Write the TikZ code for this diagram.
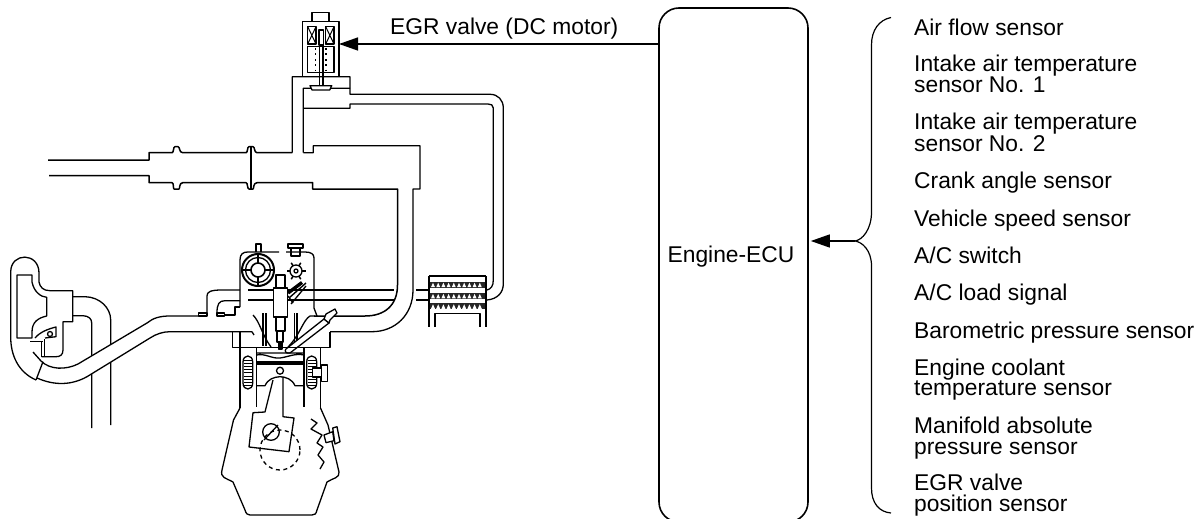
\documentclass[tikz,border=0pt]{standalone}
\usepackage{fontspec}
\setmainfont{Liberation Sans}
\usetikzlibrary{arrows.meta}
\tikzset{
 pipe/.style={line width=1.3pt,line join=round},
 thinpart/.style={line width=1pt},
 wire/.style={line width=1.4pt},
 lbl/.style={anchor=west,align=left,inner sep=0pt,font=\fontsize{22.8}{20.5}\selectfont},
 tipped/.style={-{Triangle[length=19pt,width=13pt]}}
}
\begin{document}
\begin{tikzpicture}[x=1pt,y=-1pt]
\useasboundingbox (0,0) rectangle (1203,519);
\clip (0,0) rectangle (1203,519);
% ECU
\node[draw,line width=1.6pt,rounded corners=20pt,minimum width=149pt,minimum height=514pt,inner sep=0pt] (ecu) at (733.5,265) {};
\node[font=\fontsize{22.8}{20.5}\selectfont,inner sep=0pt] (ecut) at (731,257) {Engine-ECU};
% labels
\node[lbl] (s1) at (914,27) {Air flow sensor};
\node[lbl] (s2) at (914,74) {Intake air temperature\\sensor No. 1};
\node[lbl] (s3) at (914,132.5) {Intake air temperature\\sensor No. 2};
\node[lbl] (s4) at (914,183) {Crank angle sensor};
\node[lbl] (s5) at (914,221) {Vehicle speed sensor};
\node[lbl] (s6) at (914,255) {A/C switch};
\node[lbl] (s7) at (914,295) {A/C load signal};
\node[lbl] (s8) at (914,332.5) {Barometric pressure sensor};
\node[lbl] (s9) at (914,379.5) {Engine coolant\\temperature sensor};
\node[lbl] (s10) at (914,438) {Manifold absolute\\pressure sensor};
\node[lbl] (s11) at (914,495) {EGR valve\\position sensor};
\node[lbl] (egr) at (390,29) {EGR valve (DC motor)};
% brace
\coordinate (btip) at (855,241);
\draw[line width=1.2pt] (891,17.5) .. controls (879,20) and (871.5,30) .. (871.5,45) -- (871.5,212) .. controls (871.5,230) and (862,240) .. (btip)
 .. controls (862,242) and (871.5,250) .. (871.5,266) -- (871.5,488) .. controls (871.5,503) and (879,512) .. (891,513);
\draw[wire,tipped] (btip) -- ([xshift=2pt]ecu.east |- btip);
% valve arrow
\coordinate (vtip) at (339,44);
\draw[wire,tipped] (ecu.west |- vtip) -- (vtip);
% ---- valve
\draw[pipe] (312,21.7) rectangle (329,12.7) (302.7,21.7) rectangle (339,76.7);
\draw[pipe] (307.7,26.7) rectangle (316,44) (325.7,26.7) rectangle (334,44);
\draw[thinpart] (307.7,26.7) -- (316,44) (316,26.7) -- (307.7,44) (325.7,26.7) -- (334,44) (334,26.7) -- (325.7,44);
\draw[pipe] (307.7,46.7) rectangle (334,72.7);
\draw[line width=1.6pt,dash pattern=on 1.8pt off 3.6pt] (315.3,48) -- (315.3,72) (326,48) -- (326,72);
\draw[pipe,fill=white] (319,30) rectangle (323.3,45);
\draw[line width=1.3pt] (319.3,45) -- (319.3,86) (323,45) -- (323,86);
% valve body & EGR pipes
\draw[pipe] (292.3,152.7) -- (292.3,76.7) -- (350,76.7) -- (350,94.3) -- (490,94.3)
 .. controls (498,94.3) and (503.3,100) .. (503.3,108) -- (503.3,284) .. controls (503.3,292) and (498,299) .. (487,300);
\draw[pipe] (303.3,152.7) -- (303.3,88.3) -- (350,88.3) (303.3,108.3) -- (350,108.3) -- (350,104) -- (488,104) .. controls (491,104) and (493.3,105) .. (493.3,108) -- (493.3,280) .. controls (493.3,286) and (491,289) .. (487,290);
\draw[pipe,fill=white] (310,85.7) -- (331.7,85.7) -- (329.7,90) -- (312,90) -- cycle;
\draw[pipe] (303.3,152.7) -- (313.3,152.7) -- (313.3,145.7) -- (420,145.7) -- (420,189) -- (413,189) -- (413,290) .. controls (413,315) and (395,331.7) .. (372,331.7) -- (330,331.7);
% intake pipe
\draw[line width=1.5pt,line join=round] (48,160) -- (149,160) -- (149,152.7) -- (172,152.7) .. controls (174,152.7) and (173,146.7) .. (175,146.7) -- (178,146.7) .. controls (180,146.7) and (179,152.7) .. (182.7,152.7) -- (246,152.7) .. controls (248,152.7) and (247,146.7) .. (249,146.7) -- (253,146.7) .. controls (255,146.7) and (254,152.7) .. (257,152.7) -- (292.3,152.7);
\draw[line width=1.5pt,line join=round] (49,175.7) -- (149,175.7) -- (149,182.7) -- (172,182.7) .. controls (174,182.7) and (173,189) .. (174,189) -- (179,189) .. controls (180,189) and (179,182.7) .. (182.7,182.7) -- (246,182.7) .. controls (248,182.7) and (247,189) .. (249,189) -- (253,189) .. controls (254,189) and (253,182.7) .. (257,182.7) -- (312.7,182.7) -- (312.7,189) -- (397.5,189) -- (397.5,285) .. controls (397.5,305) and (385,316) .. (365,316) -- (314,316);
\draw[pipe] (251,146.7) -- (251,189);
% cross lines
\draw[pipe] (248,290) -- (394,290) (248,300) -- (394,300) (416,290) -- (428,290) (416,300) -- (428,300);
% cooler
\draw[pipe] (429,276) -- (486,276);
\draw[pipe] (435,327) -- (435,313.5) -- (480,313.5) -- (480,327);
\foreach \yy in {281.7,292.9,303.3}{
 \fill[black!85] (429,\yy) rectangle (486,{\yy+6});
 \foreach \xx in {431,436.2,...,480}{ \fill[white] (\xx,{\yy+5.5}) -- ({\xx+2},{\yy+1}) -- ({\xx+4},{\yy+5.5}) -- cycle; }
}
\draw[pipe] (429,276) -- (429,327) (486,276) -- (486,327);
% cylinder head
\draw[pipe] (240,307) -- (240,260) .. controls (240,254) and (243,252) .. (248,252) -- (279,252);
\draw[pipe] (286,252) -- (305,252) .. controls (311,252) and (314,254) .. (314,258) -- (314,308) -- (317,316);
\draw[pipe] (240,307) -- (235,307) -- (235,315) -- (225,315);
\draw[pipe] (256,252) -- (256,244) -- (261,244) -- (261,252);
\draw[pipe] (288,244) rectangle (303,248);
\draw[pipe] (291,248) -- (291,256) -- (300,256) -- (300,248);
% cam
\draw[line width=2pt] (258,270) circle (16pt);
\draw[pipe] (258,270) circle (12.5pt);
\draw[line width=1.6pt,fill=white] (258,270) circle (7pt);
\draw[line width=1.8pt] (258,254) -- (258,263) (258,277) -- (258,286) (242,270) -- (251,270) (265,270) -- (274,270);
\fill[white] (277,287) rectangle (285,273);
\draw[pipe,fill=white] (296,271) circle (6pt);
\draw[pipe] (296,271) circle (2pt);
\foreach \a in {0,60,...,300}{ \draw[line width=1.5pt] (296,271) ++(\a:6pt) -- ++(\a:3.5pt); }
% injector / spark plug
\draw[pipe,fill=white] (276,275) rectangle (285,288) (273.5,288) rectangle (287.5,317) (276,317) rectangle (285,331) (277,331) rectangle (283,342);
\draw[pipe,fill=black] (278.5,342) rectangle (282,349);
\draw[line width=3.4pt] (288,293) -- (302,282.5);
\draw[line width=1.4pt] (289,298) -- (306,283);
\draw[pipe] (291,304) -- (306,286);
\draw[pipe] (288,296) -- (293,303);
% intake/exhaust valves
\draw[pipe] (263,313) -- (263,346) (266,313) -- (266,346) (294.5,313) -- (294.5,346) (297,313) -- (297,345);
\draw[pipe] (253,315) .. controls (260,322) and (262,335) .. (271,347);
\draw[pipe] (315,316) -- (310,316) .. controls (303,320) and (300,335) .. (288,347);
% glow plug
\draw[pipe,fill=white] (286,349) -- (324,319) -- (329,323) -- (290,353) .. controls (286,354) and (284,351) .. (286,349) -- cycle;
\draw[pipe,fill=white] (324,319) -- (326,314) -- (335,309) -- (337,313) -- (330,320) -- (329,323) -- cycle;
% head gasket and block
\draw[pipe] (232.7,331.7) -- (232.7,347.7) -- (330,347.7) -- (330,331.7);
\draw[pipe] (240,331.7) -- (240,408) (320.5,347.7) -- (320.5,408);
\draw[pipe] (256.7,347.7) -- (256.7,407) (304,347.7) -- (304,407);
% combustion chamber / piston
\draw[pipe] (256.7,353) -- (304,353) (256.7,355) .. controls (265,353) and (272,359) .. (280,358) .. controls (288,357) and (295,353) .. (304,355);
\draw[line width=3.2pt] (256.7,363) -- (304,363);
\draw[pipe] (280,370.7) circle (3.5pt);
\draw[pipe] (256.7,385.7) -- (265,385.7) .. controls (268,379) and (274,377) .. (280,376.7) .. controls (286,377) and (292,379) .. (295,385.7) -- (304,385.7);
% water jacket
\draw[pipe] (243,362) .. controls (243,354) and (252.7,354) .. (252.7,362) -- (252.7,383) .. controls (252.7,391) and (243,391) .. (243,383) -- cycle;
\draw[pipe] (306.7,362) .. controls (306.7,354) and (316.7,354) .. (316.7,362) -- (316.7,383) .. controls (316.7,391) and (306.7,391) .. (306.7,383) -- cycle;
\foreach \yy in {360,363.2,...,386}{ \draw[line width=1pt] (244,\yy) -- (252,\yy) (307.5,\yy) -- (316,\yy); }
% knock sensor
\draw[pipe,fill=white] (312.7,368) rectangle (321.7,377);
\draw[pipe,fill=white] (321.7,365) rectangle (327.3,381.7);
% crank
\draw[pipe] (273,380) -- (265,412) -- (253,412.7) -- (249,447) -- (289,451.7) -- (294,418) -- (283,416.7) -- (283,376.7);
\draw[pipe] (271,432) circle (8.3pt);
\draw[pipe] (264,440) -- (278,425);
\draw[pipe,dash pattern=on 4pt off 3.5pt] (280,450) circle (20pt);
% block outline
\draw[pipe] (240,408) -- (233.5,420) -- (222,470) .. controls (220,478) and (226,478) .. (233,482) -- (245,510) .. controls (246,514) and (248,515) .. (250,515) -- (312,515) .. controls (315,515) and (316,514) .. (317,510) -- (327,482) .. controls (333,478) and (340,478) .. (339,472) -- (328,425) -- (320.5,408);
% crank angle sensor
\draw[pipe] (311,419) -- (317,423) -- (311,429) -- (322,435) -- (317,443) -- (323,447) -- (318,455) -- (324,462) -- (320,469);
\draw[pipe,fill=white] (324,435) -- (332.7,431.7) -- (334,440.7) -- (326,442.7) -- cycle;
\draw[pipe,fill=white] (332.7,428) -- (337,426.7) -- (340,441.7) -- (335,444) -- cycle;
% turbo outlet (behind the manifold)
\draw[pipe] (73,296.7) -- (85,296.7) .. controls (100,297) and (110.7,308) .. (110.7,320) -- (110.7,425);
\draw[pipe] (73,315.7) -- (83,315.7) .. controls (89,316) and (91.7,319) .. (91.7,323) -- (91.7,428);
% exhaust/intake side
\fill[white] (198,316) -- (170,316) .. controls (160,316) and (153,318) .. (147,323) -- (78,364) .. controls (70,368) and (66,368) .. (60,367) -- (45,372) -- (37,378) .. controls (45,382) and (55,384) .. (62,383) .. controls (72,383) and (80,380) .. (87,376.7) -- (150,338) .. controls (156,334) and (163,331.7) .. (170,331.7) -- (198,331.7) -- cycle;
\draw[pipe] (207,313) -- (207,296) .. controls (207,292) and (210,290) .. (222,290) -- (240,290);
\draw[pipe] (240,300.7) -- (225,300.7) .. controls (219,300.7) and (217,304) .. (217,313);
\draw[pipe] (198.5,313) rectangle (207,316);
\draw[pipe] (217,313) rectangle (224.5,316);
\draw[pipe] (198.5,316) -- (170,316) .. controls (160,316) and (153,318) .. (147,323) -- (78,364) .. controls (66,370) and (50,370) .. (41,361) -- (33,352);
\draw[pipe] (252,331.7) -- (170,331.7) .. controls (163,331.7) and (156,334) .. (150,338) -- (87,376.7) .. controls (72,385) and (55,386) .. (37,378);
\draw[pipe] (252,331.7) -- (254,335);
% turbo
\draw[pipe] (36,380) -- (43,361.7);
\draw[pipe] (36,380) .. controls (18,372) and (10.7,355) .. (10.7,337) -- (10.7,272) .. controls (10.7,252) and (39,252) .. (39,273) -- (39,282) .. controls (40,287) and (43,290.7) .. (50,290.7) -- (72.7,290.7) -- (72.7,321.7) -- (63,321.7) -- (63,350) .. controls (63,355) and (60,356.7) .. (56,356.7) -- (41.7,356.7);
\draw[pipe] (17,338) -- (17,275) -- (32,275) -- (32,282) .. controls (34,292) and (41,297) .. (46.7,297.3) -- (46.7,316) .. controls (38,318) and (32,322) .. (32,332) -- (32,338) -- cycle;
\draw[pipe] (30,341.7) -- (43,341.7);
\draw[pipe] (41.7,341.7) -- (41.7,356.7) (44.3,339) -- (44.3,356.7);
\draw[pipe] (35,338) .. controls (40,332) and (48,329) .. (56,327) -- (56,336.7) -- (45,338);
\draw[pipe] (50,334) circle (2.5pt);
\end{tikzpicture}
\end{document}
